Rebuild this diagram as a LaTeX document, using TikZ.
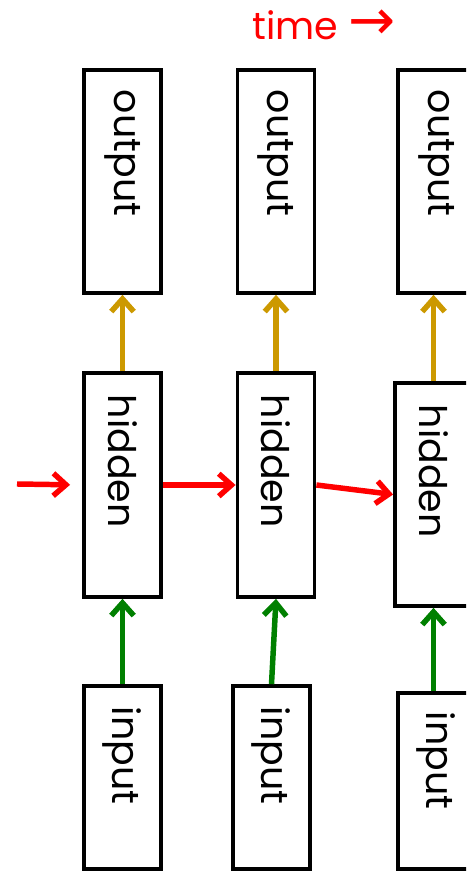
\documentclass[tikz,border=0pt]{standalone}
\usepackage{fontspec}
\setmainfont{Poppins}
\newfontfamily\arrowfont{DejaVu Sans}
\usepackage{tikz}
\usetikzlibrary{arrows.meta}
\definecolor{rnnred}{RGB}{255,0,0}
\definecolor{rnngold}{RGB}{204,153,0}
\definecolor{rnngreen}{RGB}{0,128,0}

\begin{document}
\begin{tikzpicture}[
scale=1,
font=\fontsize{27}{30}\selectfont,
cell/.style={draw,line width=2.6pt,rotate=-90,minimum height=1.93cm,inner sep=0pt,align=left},
outcell/.style={cell,minimum width=5.575cm,text width=4.575cm},
hidcell/.style={cell,minimum width=5.6cm,text width=4.5cm},
incell/.style={cell,minimum width=4.575cm,text width=3.525cm},
recur/.style={rnnred,line width=3.9pt,-{Straight Barb[length=9pt,width=16pt]}},
feedup/.style={rnngreen,line width=3.9pt,-{Straight Barb[length=9pt,width=16pt]}},
readout/.style={rnngold,line width=3.9pt,-{Straight Barb[length=9pt,width=16pt]}}
]
    % Frame
    \useasboundingbox (0,0) rectangle (11.65,21.775);
    \clip (0,0) rectangle (11.65,21.775);

    \node (time) at (8.1,21.15) [text=rnnred] {time {\arrowfont\fontsize{40}{40}\selectfont →}};

    % Output row
    \node (out1) at (3.0625,17.2375) [outcell] {output};
    \node (out2) at (6.9,17.2375) [outcell] {output};
    \node (out3) at (10.9125,17.2375) [outcell] {output};

    % Hidden row
    \node (hid1) at (3.0625,9.65) [hidcell] {hidden};
    \node (hid2) at (6.9,9.65) [hidcell] {hidden};
    \node (hid3) at (10.8375,9.4125) [hidcell,minimum width=5.575cm,text width=4.475cm] {hidden};

    % Input row
    \node (in1) at (3.0625,2.3375) [incell] {input};
    \node (in2) at (6.7875,2.3375) [incell] {input};
    \node (in3) at (10.9125,2.25) [incell,minimum width=4.4cm,text width=3.45cm] {input};

    % rotated nodes: west is top, east is bottom, south is left, north is right
    \coordinate (h0) at (0.425,9.675);

    \draw[recur,shorten >=0.3cm] (h0) -- (hid1.south);
    \draw[recur] (hid1.north) -- (hid2.south);
    \draw[recur] (hid2.north) -- (hid3.south);

    \draw[readout] (hid1.west) -- (out1.east);
    \draw[readout] (hid2.west) -- (out2.east);
    \draw[readout] (hid3.west) -- (hid3.west |- out3.east);

    \draw[feedup] (in1.west) -- (hid1.east);
    \draw[feedup] (in2.west) -- (hid2.east);
    \draw[feedup] (hid3.east |- in3.west) -- (hid3.east);

\end{tikzpicture}
\end{document}
